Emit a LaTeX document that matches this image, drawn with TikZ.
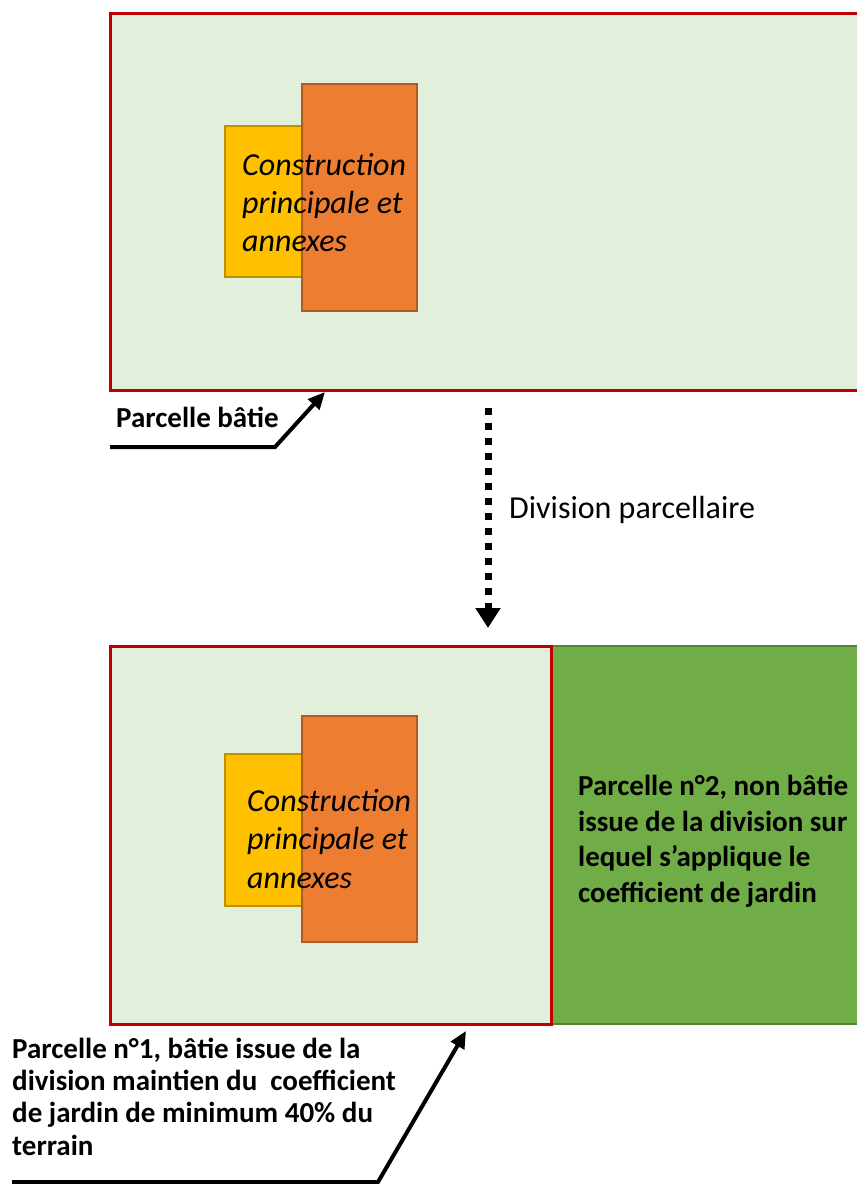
\documentclass[tikz,border=0pt]{standalone}
\usepackage{fontspec}
\setmainfont{Carlito}
\usetikzlibrary{arrows.meta}

\definecolor{vertclair}{HTML}{E2EFDA}
\definecolor{vertjardin}{HTML}{70AD47}
\definecolor{bordvert}{HTML}{548235}
\definecolor{rougeparc}{HTML}{C00000}
\definecolor{jauneann}{HTML}{FFC000}
\definecolor{bordjaune}{HTML}{BF9000}
\definecolor{orangebat}{HTML}{ED7D31}
\definecolor{bordorange}{HTML}{AE5A21}

\tikzset{
  parcelle/.style={fill=vertclair, draw=rougeparc, line width=3pt},
  jardin/.style={fill=vertjardin, draw=bordvert, line width=1.5pt},
  annexe/.style={fill=jauneann, draw=bordjaune, line width=1.5pt},
  principale/.style={fill=orangebat, draw=bordorange, line width=1.5pt},
  legende/.style={inner sep=0pt, align=left, anchor=base west},
  renvoi/.style={line width=4pt, -{Triangle[length=17pt,width=15pt]}},
}

\begin{document}
\begin{tikzpicture}[x=1pt, y=-1pt]
\useasboundingbox (0,0) rectangle (857,1184);
\clip (0,0) rectangle (857,1184);
% parcelle avant division
\draw[parcelle] (110,13) rectangle (875,390);
\draw[annexe] (225,126) rectangle (302,277);
\draw[principale] (302,84) rectangle (417,311);
\node[legende, font=\itshape\fontsize{32}{38}\selectfont] (constrA) at (242,251) {Construction\\principale et\\annexes};
\node[legende, font=\bfseries\fontsize{29}{31}\selectfont] (lblbatie) at (116,427) {Parcelle bâtie};
\coordinate (batiepied) at (110,447);
\coordinate (batiecoude) at (275,447);
\coordinate (batiepointe) at (325,392);
\draw[renvoi] (batiepied) -- (batiecoude) -- (batiepointe);
% division
\coordinate (divhaut) at (488,408);
\coordinate (divbas) at (488,628);
\draw[line width=7pt, dash pattern=on 7pt off 8pt, -{Triangle[length=20pt,width=24pt]}] (divhaut) -- (divbas);
\node[legende, font=\fontsize{32}{38}\selectfont] (lbldiv) at (509,518) {Division parcellaire};
% parcelles apres division
\draw[jardin] (551,646) rectangle (875,1024);
\draw[parcelle] (110,646) rectangle (551,1024);
\draw[annexe] (225,754) rectangle (302,906);
\draw[principale] (302,716) rectangle (417,942);
\node[legende, font=\itshape\fontsize{32}{38.5}\selectfont] (constrB) at (247,888) {Construction\\principale et\\annexes};
\node[legende, font=\bfseries\fontsize{29}{35.5}\selectfont] (lblparc2) at (578,902) {Parcelle n°2, non bâtie\\issue de la division sur\\lequel s’applique le\\coefficient de jardin};
\node[legende, font=\bfseries\fontsize{29}{32.3}\selectfont] (lblparc1) at (12,1155) {Parcelle n°1, bâtie issue de la\\division maintien du~ coefficient\\de jardin de minimum 40\% du\\terrain};
\coordinate (parc1pied) at (12,1182);
\coordinate (parc1coude) at (378,1182);
\coordinate (parc1pointe) at (466,1031);
\draw[renvoi] (parc1pied) -- (parc1coude) -- (parc1pointe);
\end{tikzpicture}
\end{document}
